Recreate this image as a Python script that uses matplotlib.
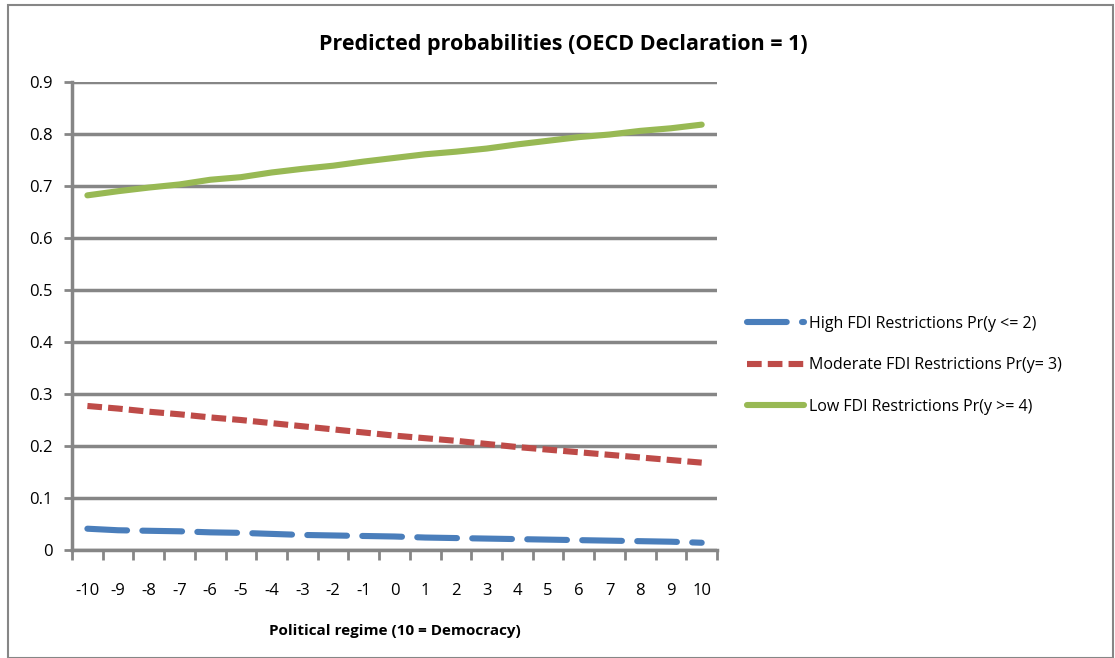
import numpy as np
import matplotlib.pyplot as plt
from matplotlib.patches import Rectangle

plt.rcParams['font.family'] = ['Open Sans', 'DejaVu Sans']
plt.rcParams['axes.unicode_minus'] = False

# political regime score, -10 (autocracy) .. 10 (democracy)
regime = list(range(-10, 11))

high_fdi = [0.041, 0.038, 0.037, 0.036, 0.034, 0.033, 0.031, 0.029, 0.028, 0.027, 0.026,
            0.024, 0.023, 0.022, 0.021, 0.020, 0.019, 0.018, 0.017, 0.016, 0.014]
moderate_fdi = [0.277, 0.272, 0.266, 0.261, 0.255, 0.250, 0.244, 0.238, 0.232, 0.226, 0.220,
                0.215, 0.210, 0.204, 0.198, 0.193, 0.188, 0.183, 0.178, 0.173, 0.168]
low_fdi = [0.682, 0.690, 0.697, 0.703, 0.712, 0.717, 0.726, 0.733, 0.739, 0.747, 0.754,
           0.761, 0.766, 0.772, 0.780, 0.787, 0.794, 0.799, 0.806, 0.811, 0.818]

labels = ["High FDI Restrictions Pr(y <= 2)",
          "Moderate FDI Restrictions Pr(y= 3)",
          "Low FDI Restrictions Pr(y >= 4)"]

y_ticks = [0, 0.1, 0.2, 0.3, 0.4, 0.5, 0.6, 0.7, 0.8, 0.9]
y_labels = ["0", "0.1", "0.2", "0.3", "0.4", "0.5", "0.6", "0.7", "0.8", "0.9"]

grey = "#868686"

fig = plt.figure(figsize=(11.15, 6.58), dpi=100)
ax = fig.add_axes([0.0646, 0.1641, 0.5785, 0.7113])

ax.plot(regime, high_fdi, color="#4a7ebb", lw=4.4, dashes=(6.5, 2.5),
        solid_capstyle="round", dash_capstyle="round", label=labels[0])
ax.plot(regime, moderate_fdi, color="#be4b48", lw=4.4, dashes=(2.4, 1.0),
        dash_capstyle="butt", label=labels[1])
ax.plot(regime, low_fdi, color="#98b954", lw=4.4, solid_capstyle="round",
        label=labels[2])

ax.set_xlim(-10.5, 10.5)
ax.set_ylim(0, 0.9)
ax.set_yticks(y_ticks, y_labels)
ax.set_xticks(regime)
ax.set_xticks(np.arange(-10.5, 11, 1), minor=True)
ax.tick_params(axis="x", which="major", length=0, pad=24, labelsize=12)
ax.tick_params(axis="x", which="minor", length=7, width=2, color=grey, direction="out")
ax.tick_params(axis="y", length=6, width=2, color=grey, pad=8, labelsize=12)

ax.grid(axis="y", color=grey, lw=2.5)
ax.set_axisbelow(True)
for side in ("top", "right"):
    ax.spines[side].set_visible(False)
for side in ("left", "bottom"):
    ax.spines[side].set_color(grey)
    ax.spines[side].set_linewidth(2.5)

ax.set_xlabel("Political regime (10 = Democracy)", fontsize=11, fontweight="bold", labelpad=18)
fig.text(0.505, 0.933, "Predicted probabilities (OECD Declaration = 1)",
         ha="center", va="center", fontsize=15.5, fontweight="bold")

fig.legend(loc="center left", bbox_to_anchor=(0.657, 0.445), frameon=False,
           fontsize=11.5, handlelength=3.6, handletextpad=0.3, labelspacing=1.6)

fig.patches.append(Rectangle((8 / 1115, 0), 1105 / 1115, 1 - 5 / 658,
                             transform=fig.transFigure, fill=False,
                             edgecolor=grey, lw=1.5))

fig.savefig("out.png", dpi=100)
